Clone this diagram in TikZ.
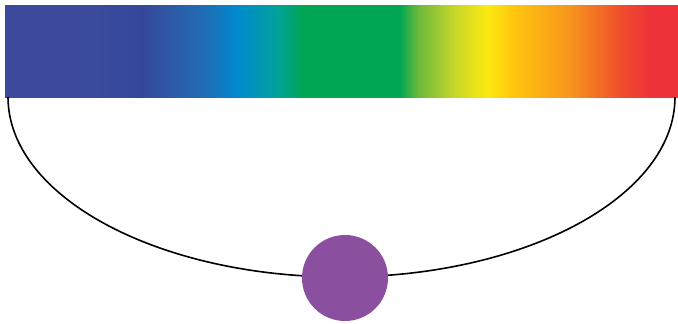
\documentclass[tikz,border=0pt]{standalone}
\usetikzlibrary{calc}
\definecolor{s1}{HTML}{3B4A9D}
\definecolor{s2}{HTML}{34489B}
\definecolor{s3}{HTML}{2E5AA7}
\definecolor{s4}{HTML}{1B72B8}
\definecolor{s5}{HTML}{0089D0}
\definecolor{s6}{HTML}{00A29A}
\definecolor{s7}{HTML}{00A651}
\definecolor{s8}{HTML}{6AB83C}
\definecolor{s9}{HTML}{C8D72A}
\definecolor{s10}{HTML}{FDE910}
\definecolor{s11}{HTML}{FEC70E}
\definecolor{s12}{HTML}{F7941D}
\definecolor{s13}{HTML}{EF4B2C}
\definecolor{s14}{HTML}{ED323A}
\definecolor{dotpurple}{HTML}{8A4F9E}
\tikzset{
  curveline/.style={draw=black, line width=1.6pt},
  dotstyle/.style={circle, fill=dotpurple, draw=none, minimum size=86pt, inner sep=0pt},
}
\begin{document}
\begin{tikzpicture}[x=1pt,y=-1pt]
\useasboundingbox (0,0) rectangle (678,324);
% spectrum bar
\def\bt{5}\def\bb{97}
\foreach \xa/\xb/\ca/\cb in {5/90/s1/s1, 89.5/143/s1/s2, 142.5/173/s2/s3, 172.5/212/s3/s4, 211.5/236/s4/s5, 235.5/278/s5/s6, 277.5/303/s6/s7, 302.5/400/s7/s7, 399.5/418/s7/s8, 417.5/455/s8/s9, 454.5/488/s9/s10, 487.5/513/s10/s11, 512.5/571/s11/s12, 570.5/623/s12/s13, 622.5/650/s13/s14, 649.5/678/s14/s14}
  \shade[left color=\ca, right color=\cb, draw=none] (\xa,\bt) rectangle (\xb,\bb);
% curve
\coordinate (L) at (8,97);
\coordinate (B) at (341.5,277);
\coordinate (R) at (675,97);
\draw[curveline] (L) .. controls (8,196.4) and (157.3,277) .. (B)
                     .. controls (525.7,277) and (675,196.4) .. (R);
% dot
\node[dotstyle] (dot) at (345,278) {};
\end{tikzpicture}
\end{document}
